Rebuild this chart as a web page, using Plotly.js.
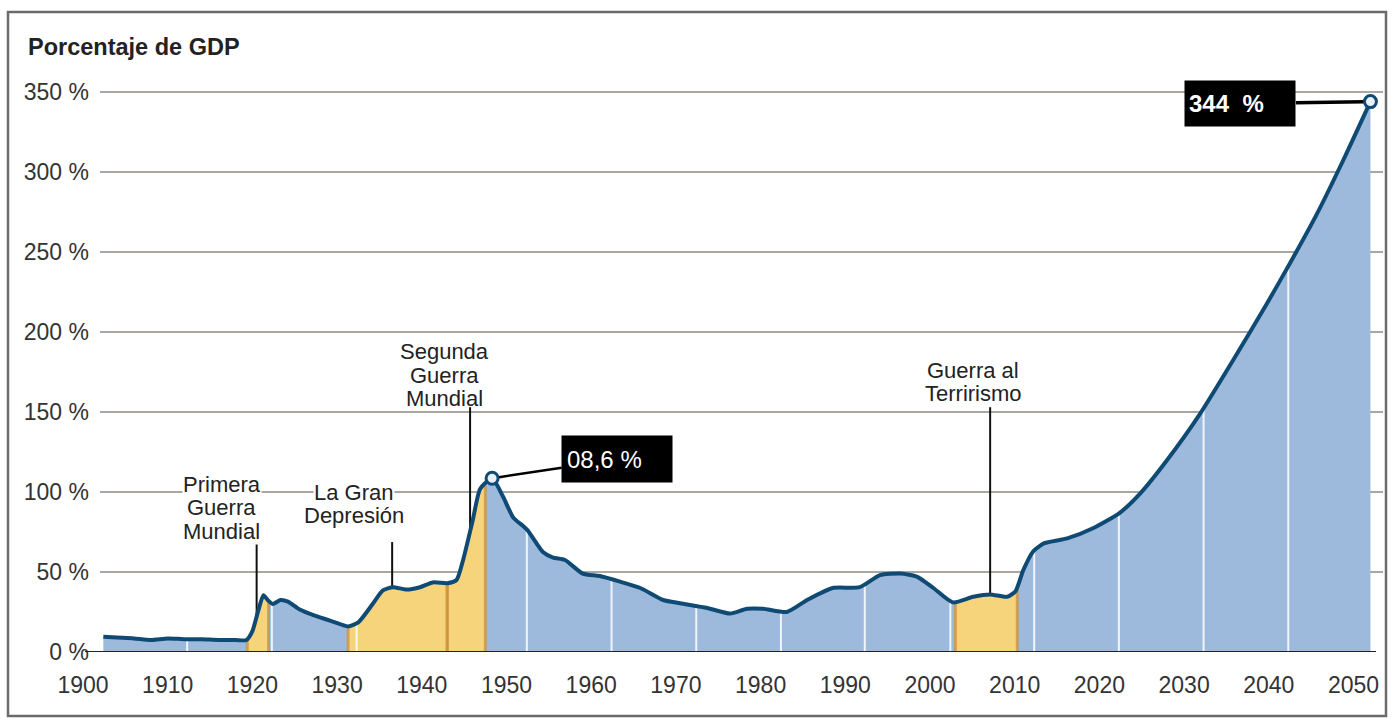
<!DOCTYPE html>
<html>
<head>
<meta charset="utf-8">
<script src="https://cdn.plot.ly/plotly-3.0.1.min.js"></script>
<style>
  html, body { margin: 0; padding: 0; background: #ffffff; }
  #chart { width: 1394px; height: 719px; }
</style>
</head>
<body>
<div id="chart"></div>
<script>
// ---------------- data ----------------
const years = [1902.4, 1904, 1906, 1908, 1910, 1912, 1914, 1916, 1918, 1919.3,
  1920, 1920.7, 1921.3, 1921.8, 1922.4, 1923.3, 1924.2, 1925.6, 1927.2, 1929.5,
  1931.3, 1932.5, 1934.2, 1935.4, 1936.6, 1938.2, 1939.8, 1941.3, 1943, 1944.1,
  1944.9, 1946, 1946.9, 1948.3, 1949.6, 1950.8, 1951.9, 1952.5, 1954.3, 1955.5,
  1956.9, 1959, 1961, 1963.4, 1965.8, 1968.5, 1970.5, 1973.7, 1976.4, 1978.4,
  1980.3, 1983.1, 1985.5, 1988.5, 1991.7, 1994.1, 1996.5, 1998.5, 2000.4, 2002.7,
  2005.1, 2007.1, 2009.1, 2010.1, 2011, 2012.2, 2013.5, 2016.2, 2019.3, 2022.4,
  2024.8, 2028, 2031.9, 2035.8, 2039.8, 2042.5, 2045.7, 2048.8, 2052];
const debtPct = [9.5, 9, 8.5, 7.5, 8.5, 8, 8, 7.5, 7.5, 7.5,
  13, 26, 35.5, 32.5, 30, 32.5, 31.5, 26.5, 23, 19,
  16, 18.5, 30, 38.5, 40.5, 39, 40.5, 43.5, 43, 45,
  58, 82, 102, 108.6, 97, 84, 79, 76, 62.5, 59,
  57.5, 49, 47.5, 44, 40, 32.5, 30.5, 27.5, 24, 27,
  27, 25, 32.5, 40, 40.5, 48, 49, 47, 40, 31,
  34.5, 36, 34.5, 38, 51, 63, 68, 71, 77.5, 87,
  99, 120, 149, 182.5, 218, 243, 274, 307.5, 344];

const xTickVals = [1900, 1910, 1920, 1930, 1940, 1950, 1960, 1970, 1980, 1990, 2000, 2010, 2020, 2030, 2040, 2050];
const xTickText = ['1900', '1910', '1920', '1930', '1940', '1950', '1960', '1970', '1980', '1990', '2000', '2010', '2020', '2030', '2040', '2050'];
const yTickVals = [0, 50, 100, 150, 200, 250, 300, 350];
const yTickText = ['0 %', '50 %', '100 %', '150 %', '200 %', '250 %', '300 %', '350 %'];

// white separators inside the area
const gridYears = [1912.3, 1922.3, 1932.3, 1952.4, 1962.4, 1972.4, 1982.4, 1992.3, 2002.4, 2012.3, 2022.3, 2032.3, 2042.3];

// highlighted periods (yellow)
const periodStart = [1919.4, 1931.3, 1943.0, 2003.0];
const periodEnd   = [1921.9, 1943.0, 1947.5, 2010.3];

// events
const eventNames = [['Primera', 'Guerra', 'Mundial'], ['La Gran', 'Depresión'], ['Segunda', 'Guerra', 'Mundial'], ['Guerra al', 'Terrirismo']];
const eventLabelYear = [1916.4, 1932.0, 1942.7, 2005.1];
const eventLabelValue = [105.0, 99.8, 187.6, 176.2];
const eventLineYear = [1920.5, 1936.5, 1945.7, 2007.1];
const eventLineTop = [68.7, 68.7, 153, 153];

const peakYear = 1948.3, peakValue = 108.6, peakLabel = '08,6 %';
const endYear = 2052, endValue = 344, endLabel = '344\u00a0\u00a0%';

// ---------------- helpers ----------------
function interp(x) {
  if (x <= years[0]) return debtPct[0];
  for (let i = 1; i < years.length; i++) {
    if (x <= years[i]) {
      const t = (x - years[i - 1]) / (years[i] - years[i - 1]);
      return debtPct[i - 1] + t * (debtPct[i] - debtPct[i - 1]);
    }
  }
  return debtPct[debtPct.length - 1];
}

const FONT = 'Liberation Sans, Arial, Helvetica, sans-serif';
const LINE = '#0f4a75';
const BLUE = '#9dbadc';
const YELLOW = '#f6d47b';

const traces = [];
// blue area
traces.push({
  x: years, y: debtPct, type: 'scatter', mode: 'lines', fill: 'tozeroy',
  fillcolor: BLUE, line: { width: 0, shape: 'spline', smoothing: 0.6 }, hoverinfo: 'skip'
});
// yellow segments
for (let k = 0; k < periodStart.length; k++) {
  const sx = [periodStart[k]], sy = [interp(periodStart[k])];
  for (let i = 0; i < years.length; i++) {
    if (years[i] > periodStart[k] && years[i] < periodEnd[k]) { sx.push(years[i]); sy.push(debtPct[i]); }
  }
  sx.push(periodEnd[k]); sy.push(interp(periodEnd[k]));
  traces.push({
    x: sx, y: sy, type: 'scatter', mode: 'lines', fill: 'tozeroy',
    fillcolor: YELLOW, line: { width: 0, shape: 'spline', smoothing: 0.6 }, hoverinfo: 'skip'
  });
}
// orange edges of periods
(function () {
  const ex = [], ey = [];
  for (let k = 0; k < periodStart.length; k++) {
    [periodStart[k], periodEnd[k]].forEach(function (p) {
      ex.push(p, p, null); ey.push(0, interp(p) - 1, null);
    });
  }
  traces.push({ x: ex, y: ey, type: 'scatter', mode: 'lines',
    line: { color: 'rgba(206,146,62,0.75)', width: 3 }, hoverinfo: 'skip' });
})();
// white separators
(function () {
  const gx = [], gy = [];
  gridYears.forEach(function (g) { gx.push(g, g, null); gy.push(0, interp(g) - 1, null); });
  traces.push({ x: gx, y: gy, type: 'scatter', mode: 'lines',
    line: { color: 'rgba(255,255,255,0.85)', width: 2 }, hoverinfo: 'skip' });
})();
// event leader lines
(function () {
  const lx = [], ly = [];
  for (let k = 0; k < eventLineYear.length; k++) {
    lx.push(eventLineYear[k], eventLineYear[k], null);
    ly.push(eventLineTop[k], interp(eventLineYear[k]), null);
  }
  traces.push({ x: lx, y: ly, type: 'scatter', mode: 'lines',
    line: { color: '#111111', width: 2 }, hoverinfo: 'skip' });
})();
// main line
traces.push({
  x: years, y: debtPct, type: 'scatter', mode: 'lines',
  line: { color: LINE, width: 4, shape: 'spline', smoothing: 0.6 }, hoverinfo: 'skip'
});
// highlighted points
traces.push({
  x: [peakYear, endYear], y: [peakValue, endValue], type: 'scatter', mode: 'markers',
  marker: { size: 12, color: '#e8f1fa', line: { color: LINE, width: 3 } },
  cliponaxis: false, hoverinfo: 'skip'
});

// ---------------- layout ----------------
const W = 1394, H = 719;
const L = 80, R = 11, T = 76, B = 67;
const plotW = W - L - R, plotH = H - T - B;
const pxPerYear = 8.47;
const xStart = 1900 - (83 - L) / pxPerYear;
const xEnd = xStart + plotW / pxPerYear;
const gridStart = (100 - L) / plotW;

const shapes = [];
yTickVals.forEach(function (v) {
  if (v === 0) return;
  shapes.push({ type: 'line', xref: 'paper', yref: 'y', x0: gridStart, x1: 1, y0: v, y1: v,
    line: { color: '#aaa6a1', width: 2 }, layer: 'below' });
});
shapes.push({ type: 'line', xref: 'paper', yref: 'y', x0: (85 - L) / plotW, x1: (1376 - L) / plotW, y0: 0, y1: 0,
  line: { color: '#222222', width: 2 }, layer: 'above' });
shapes.push({ type: 'rect', xref: 'paper', yref: 'paper',
  x0: (8 - L) / plotW, x1: (1386 - L) / plotW, y0: -(716 - (H - B)) / plotH, y1: ((H - B) - 12) / plotH,
  line: { color: '#6b6b6b', width: 2.5 }, fillcolor: 'rgba(0,0,0,0)', layer: 'above' });

const annotations = [];
const lineStep = [23.5, 23.5, 23.5, 23.5];
for (let k = 0; k < eventNames.length; k++) {
  eventNames[k].forEach(function (txt, i) {
    annotations.push({
      x: eventLabelYear[k], y: eventLabelValue[k], xref: 'x', yref: 'y',
      yshift: -i * lineStep[k], text: txt, showarrow: false,
      xanchor: 'center', yanchor: 'middle',
      font: { family: FONT, size: 22, color: '#222222' },
      bgcolor: k < 2 ? '#ffffff' : 'rgba(0,0,0,0)', borderpad: 0
    });
  });
}
annotations.push({
  x: peakYear, y: peakValue, xref: 'x', yref: 'y', text: peakLabel,
  showarrow: true, arrowhead: 0, arrowwidth: 2.5, arrowcolor: '#000000', standoff: 7,
  ax: 125, ay: -19, bgcolor: '#000000', borderpad: 5, width: 100, height: 36,
  align: 'left', valign: 'middle', font: { family: FONT, size: 24, color: '#ffffff' }
});
annotations.push({
  x: endYear, y: endValue, xref: 'x', yref: 'y', text: '<b>' + endLabel + '</b>',
  showarrow: true, arrowhead: 0, arrowwidth: 3.5, arrowcolor: '#000000', standoff: 7,
  ax: -130, ay: 2, bgcolor: '#000000', borderpad: 4, width: 102, height: 37,
  align: 'left', valign: 'middle', font: { family: FONT, size: 24, color: '#ffffff' }
});

const layout = {
  width: W, height: H,
  margin: { l: L, r: R, t: T, b: B, pad: 0 },
  paper_bgcolor: '#ffffff', plot_bgcolor: 'rgba(0,0,0,0)',
  showlegend: false,
  font: { family: FONT, color: '#333333' },
  title: {
    text: '<b>Porcentaje de GDP</b>', font: { family: FONT, size: 23.5, color: '#222222' },
    xref: 'container', yref: 'container', x: 28 / W, xanchor: 'left', y: 1 - 47 / H, yanchor: 'middle'
  },
  xaxis: {
    range: [xStart, xEnd], showgrid: false, zeroline: false, showline: false, ticks: '',
    tickvals: xTickVals, ticktext: xTickText, tickfont: { family: FONT, size: 23, color: '#333333' },
    ticklabelstandoff: 17, fixedrange: true
  },
  yaxis: {
    range: [0, 360], anchor: 'free', position: gridStart, showgrid: false, zeroline: false,
    showline: false, ticks: '', tickvals: yTickVals, ticktext: yTickText,
    tickfont: { family: FONT, size: 23, color: '#333333' }, ticklabelstandoff: 11, fixedrange: true
  },
  shapes: shapes,
  annotations: annotations
};

Plotly.newPlot('chart', traces, layout, { displayModeBar: false, staticPlot: true });
</script>
</body>
</html>
